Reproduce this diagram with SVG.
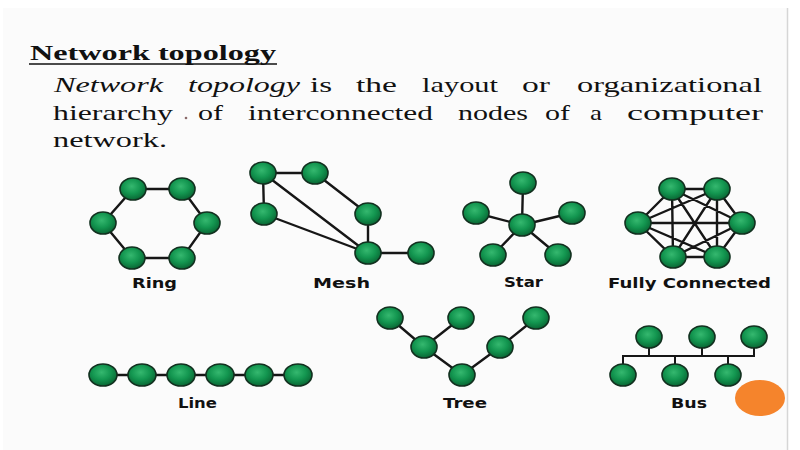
<svg xmlns="http://www.w3.org/2000/svg" width="800" height="450" viewBox="0 0 800 450">
<style>
.nd{fill:url(#g);stroke:#12301f;stroke-width:1.6}
.e{stroke:#161616;stroke-width:2.4;fill:none;stroke-linecap:round}
.bus{stroke:#161616;stroke-width:2;fill:none}
.t{font-family:"Liberation Serif","Times New Roman",serif;font-size:22px;fill:#111}
.it{font-style:italic}
.lb{font-family:"DejaVu Sans",Verdana,sans-serif;font-weight:bold;font-size:14.5px;fill:#111}
</style>
<defs>
<radialGradient id="g" cx="45%" cy="38%" r="60%">
<stop offset="0" stop-color="#35b86f"/>
<stop offset="0.55" stop-color="#139650"/>
<stop offset="1" stop-color="#0a6a36"/>
</radialGradient>
</defs>
<rect x="0" y="0" width="800" height="450" fill="#ffffff"/>
<rect x="3" y="8" width="784" height="442" fill="#fbfbfb"/>
<line x1="787.5" y1="8" x2="787.5" y2="450" stroke="#d6d6d6" stroke-width="1.5"/>

<g id="title">
<text x="30" y="60" class="t" font-weight="bold" font-size="23" textLength="246" lengthAdjust="spacingAndGlyphs">Network topology</text>
<line x1="29" y1="64" x2="277" y2="64" stroke="#111" stroke-width="1.6"/>
</g>
<g id="body">
<text x="54" y="92" class="t it" textLength="109" lengthAdjust="spacingAndGlyphs">Network</text>
<text x="188" y="92" class="t it" textLength="112" lengthAdjust="spacingAndGlyphs">topology</text>
<text x="310" y="92" class="t" textLength="22" lengthAdjust="spacingAndGlyphs">is</text>
<text x="356" y="92" class="t" textLength="41" lengthAdjust="spacingAndGlyphs">the</text>
<text x="422" y="92" class="t" textLength="76" lengthAdjust="spacingAndGlyphs">layout</text>
<text x="522" y="92" class="t" textLength="28" lengthAdjust="spacingAndGlyphs">or</text>
<text x="577" y="92" class="t" textLength="185" lengthAdjust="spacingAndGlyphs">organizational</text>
<text x="53" y="120" class="t" textLength="120" lengthAdjust="spacingAndGlyphs">hierarchy</text>
<circle cx="186" cy="118" r="1.3" fill="#8a6a6a"/>
<text x="198" y="120" class="t" textLength="25" lengthAdjust="spacingAndGlyphs">of</text>
<text x="248" y="120" class="t" textLength="185" lengthAdjust="spacingAndGlyphs">interconnected</text>
<text x="458" y="120" class="t" textLength="70" lengthAdjust="spacingAndGlyphs">nodes</text>
<text x="545" y="120" class="t" textLength="25" lengthAdjust="spacingAndGlyphs">of</text>
<text x="590" y="120" class="t" textLength="12" lengthAdjust="spacingAndGlyphs">a</text>
<text x="627" y="120" class="t" textLength="136" lengthAdjust="spacingAndGlyphs">computer</text>
<text x="53" y="147" class="t" textLength="114" lengthAdjust="spacingAndGlyphs">network.</text>
</g>

<g id="connectors">
<!-- ring -->
<polygon class="e" points="133,189 182,189 207,223 182,258 132,258 103,223"/>
<!-- mesh -->
<line class="e" x1="263" y1="173" x2="315" y2="173"/>
<line class="e" x1="263" y1="173" x2="264" y2="214"/>
<line class="e" x1="263" y1="173" x2="368" y2="253"/>
<line class="e" x1="264" y1="214" x2="368" y2="253"/>
<line class="e" x1="315" y1="173" x2="368" y2="214"/>
<line class="e" x1="368" y1="214" x2="368" y2="253"/>
<line class="e" x1="368" y1="253" x2="421" y2="253"/>
<!-- star -->
<line class="e" x1="522" y1="225" x2="523" y2="183"/>
<line class="e" x1="522" y1="225" x2="476" y2="213"/>
<line class="e" x1="522" y1="225" x2="572" y2="213"/>
<line class="e" x1="522" y1="225" x2="493" y2="255"/>
<line class="e" x1="522" y1="225" x2="558" y2="255"/>
<!-- fully connected -->
<path class="e" d="M672,189L717,189M672,189L638,223M672,189L742,223M672,189L673,257M672,189L717,257M717,189L638,223M717,189L742,223M717,189L673,257M717,189L717,257M638,223L742,223M638,223L673,257M638,223L717,257M742,223L673,257M742,223L717,257M673,257L717,257"/>
<!-- line -->
<line class="e" x1="103" y1="375" x2="298" y2="375"/>
<!-- tree -->
<polyline class="e" points="390,318 424,347 462,375 500,347 536,318"/>
<line class="e" x1="461" y1="318" x2="424" y2="347"/>
<!-- bus -->
<path class="bus" d="M622,356H755M649,337V356M702,337V356M754,337V356M623,356V375M675,356V375M728,356V375"/>
</g>

<g id="ring-n1"><ellipse class="nd" cx="133" cy="189" rx="13" ry="11"/></g>
<g id="ring-n2"><ellipse class="nd" cx="182" cy="189" rx="13" ry="11"/></g>
<g id="ring-n3"><ellipse class="nd" cx="103" cy="223" rx="13" ry="11"/></g>
<g id="ring-n4"><ellipse class="nd" cx="207" cy="223" rx="13" ry="11"/></g>
<g id="ring-n5"><ellipse class="nd" cx="132" cy="258" rx="13" ry="11"/></g>
<g id="ring-n6"><ellipse class="nd" cx="182" cy="258" rx="13" ry="11"/></g>

<g id="mesh-n1"><ellipse class="nd" cx="263" cy="173" rx="13" ry="11"/></g>
<g id="mesh-n2"><ellipse class="nd" cx="315" cy="173" rx="13" ry="11"/></g>
<g id="mesh-n3"><ellipse class="nd" cx="264" cy="214" rx="13" ry="11"/></g>
<g id="mesh-n4"><ellipse class="nd" cx="368" cy="214" rx="13" ry="11"/></g>
<g id="mesh-n5"><ellipse class="nd" cx="368" cy="253" rx="13" ry="11"/></g>
<g id="mesh-n6"><ellipse class="nd" cx="421" cy="253" rx="13" ry="11"/></g>

<g id="star-c"><ellipse class="nd" cx="522" cy="225" rx="13" ry="11"/></g>
<g id="star-n1"><ellipse class="nd" cx="523" cy="183" rx="13" ry="11"/></g>
<g id="star-n2"><ellipse class="nd" cx="476" cy="213" rx="13" ry="11"/></g>
<g id="star-n3"><ellipse class="nd" cx="572" cy="213" rx="13" ry="11"/></g>
<g id="star-n4"><ellipse class="nd" cx="493" cy="255" rx="13" ry="11"/></g>
<g id="star-n5"><ellipse class="nd" cx="558" cy="255" rx="13" ry="11"/></g>

<g id="full-n1"><ellipse class="nd" cx="672" cy="189" rx="13" ry="11"/></g>
<g id="full-n2"><ellipse class="nd" cx="717" cy="189" rx="13" ry="11"/></g>
<g id="full-n3"><ellipse class="nd" cx="638" cy="223" rx="13" ry="11"/></g>
<g id="full-n4"><ellipse class="nd" cx="742" cy="223" rx="13" ry="11"/></g>
<g id="full-n5"><ellipse class="nd" cx="673" cy="257" rx="13" ry="11"/></g>
<g id="full-n6"><ellipse class="nd" cx="717" cy="257" rx="13" ry="11"/></g>

<g id="line-n1"><ellipse class="nd" cx="103" cy="375" rx="14" ry="11"/></g>
<g id="line-n2"><ellipse class="nd" cx="142" cy="375" rx="14" ry="11"/></g>
<g id="line-n3"><ellipse class="nd" cx="181" cy="375" rx="14" ry="11"/></g>
<g id="line-n4"><ellipse class="nd" cx="220" cy="375" rx="14" ry="11"/></g>
<g id="line-n5"><ellipse class="nd" cx="259" cy="375" rx="14" ry="11"/></g>
<g id="line-n6"><ellipse class="nd" cx="298" cy="375" rx="14" ry="11"/></g>

<g id="tree-n1"><ellipse class="nd" cx="390" cy="318" rx="13" ry="11"/></g>
<g id="tree-n2"><ellipse class="nd" cx="461" cy="318" rx="13" ry="11"/></g>
<g id="tree-n3"><ellipse class="nd" cx="424" cy="347" rx="13" ry="11"/></g>
<g id="tree-n4"><ellipse class="nd" cx="462" cy="375" rx="13" ry="11"/></g>
<g id="tree-n5"><ellipse class="nd" cx="500" cy="347" rx="13" ry="11"/></g>
<g id="tree-n6"><ellipse class="nd" cx="536" cy="318" rx="13" ry="11"/></g>

<g id="bus-n1"><ellipse class="nd" cx="649" cy="337" rx="13" ry="11"/></g>
<g id="bus-n2"><ellipse class="nd" cx="702" cy="337" rx="13" ry="11"/></g>
<g id="bus-n3"><ellipse class="nd" cx="754" cy="337" rx="13" ry="11"/></g>
<g id="bus-n4"><ellipse class="nd" cx="623" cy="375" rx="13" ry="11"/></g>
<g id="bus-n5"><ellipse class="nd" cx="675" cy="375" rx="13" ry="11"/></g>
<g id="bus-n6"><ellipse class="nd" cx="728" cy="375" rx="13" ry="11"/></g>

<g id="labels">
<text class="lb" x="132" y="288" textLength="45" lengthAdjust="spacingAndGlyphs">Ring</text>
<text class="lb" x="313" y="288" textLength="57" lengthAdjust="spacingAndGlyphs">Mesh</text>
<text class="lb" x="504" y="287" textLength="39" lengthAdjust="spacingAndGlyphs">Star</text>
<text class="lb" x="608" y="288" textLength="163" lengthAdjust="spacingAndGlyphs">Fully Connected</text>
<text class="lb" x="178" y="408" textLength="39" lengthAdjust="spacingAndGlyphs">Line</text>
<text class="lb" x="443" y="408" textLength="44" lengthAdjust="spacingAndGlyphs">Tree</text>
<text class="lb" x="671" y="408" textLength="36" lengthAdjust="spacingAndGlyphs">Bus</text>
</g>

<g id="orange-dot"><ellipse cx="760" cy="398" rx="25" ry="18" fill="#f5842c"/></g>
</svg>
